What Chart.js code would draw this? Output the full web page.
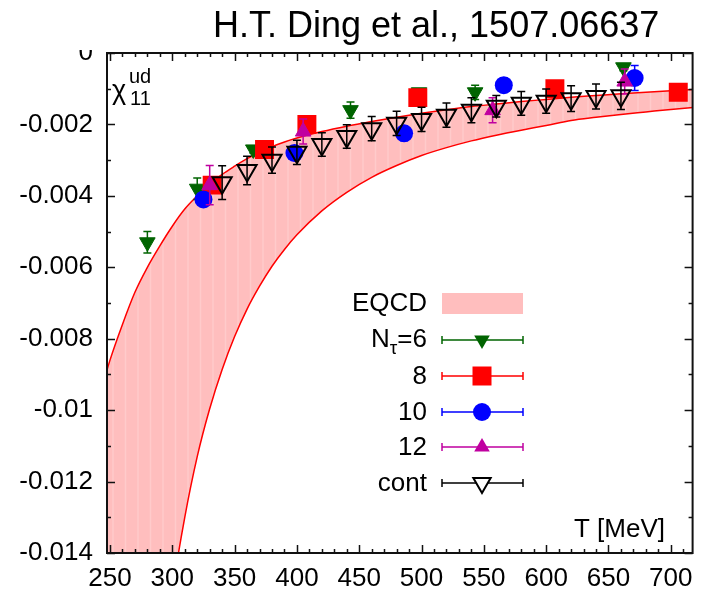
<!DOCTYPE html>
<html>
<head>
<meta charset="utf-8">
<script src="https://cdn.jsdelivr.net/npm/chart.js@4.4.1/dist/chart.umd.min.js"></script>
<style>
  html, body { margin: 0; padding: 0; background: #fff; }
  #wrap { width: 706px; height: 598px; position: relative; }
</style>
</head>
<body>
<div id="wrap"><canvas id="chi11"></canvas></div>
<script>
// EQCD band: upper and lower edge of chi_11^ud vs T
var bandT     = [240, 250, 260, 270, 280, 290, 300, 310, 320, 330, 340, 350, 360, 370, 380, 390, 400, 420, 440, 460, 480, 500, 520, 540, 560, 580, 600, 620, 640, 660, 680, 700, 720];
var eqcdUpper = [-0.0098, -0.0086, -0.0076, -0.0067, -0.0060, -0.0054, -0.00485, -0.00437, -0.0040, -0.00368, -0.0034, -0.00317, -0.00296, -0.00278, -0.00262, -0.00249, -0.00238, -0.0022, -0.00205, -0.00192, -0.0018, -0.00169, -0.00159, -0.0015, -0.00143, -0.00136, -0.0013, -0.00124, -0.00119, -0.00114, -0.0011, -0.00106, -0.00102];
var eqcdLower = [-0.0560, -0.0425, -0.0328, -0.0262, -0.0214, -0.0178, -0.0151, -0.0130, -0.0113, -0.00996, -0.00886, -0.00794, -0.00717, -0.00653, -0.00597, -0.0055, -0.00509, -0.00442, -0.0039, -0.00348, -0.00315, -0.00287, -0.00265, -0.00246, -0.0023, -0.00216, -0.00203, -0.00189, -0.0018, -0.00172, -0.00165, -0.00158, -0.00152];

// lattice results, one set per N_tau
var nt6T   = [280, 320, 365, 443, 498, 543, 662];
var nt6Chi = [-0.0053, -0.0038, -0.0027, -0.0016, -0.0011, -0.0011, -0.0004];
var nt6Err = [0.0003, 0.0003, 0.0001, 0.00023, 0.0001, 0.0002, 0.0001];

var nt8T   = [332, 374, 408, 497, 607, 706];
var nt8Chi = [-0.0037, -0.0027, -0.0020, -0.00125, -0.0010, -0.0011];
var nt8Err = [0.00005, 0.00005, 0.00005, 0.00005, 0.00005, 0.00005];

var nt10T   = [325, 398, 486, 566, 671];
var nt10Chi = [-0.0041, -0.0028, -0.00225, -0.0009, -0.0007];
var nt10Err = [0.0001, 0.0001, 0.0002, 0.0002, 0.00035];

var nt12T   = [330, 405, 557, 663];
var nt12Chi = [-0.0037, -0.0022, -0.0016, -0.0008];
var nt12Err = [0.00055, 0.00035, 0.00035, 0.00035];

// continuum extrapolation
var contT   = [340, 360, 380, 400, 420, 440, 460, 480, 500, 520, 540, 560, 580, 600, 620, 640, 660];
var contChi = [-0.00363, -0.00329, -0.0030, -0.00278, -0.00256, -0.00234, -0.00212, -0.00197, -0.00186, -0.00174, -0.0016, -0.00149, -0.00141, -0.00135, -0.00128, -0.00122, -0.0012];
var contErr = [0.00047, 0.0004, 0.00037, 0.00034, 0.00033, 0.00033, 0.00034, 0.00034, 0.00034, 0.00034, 0.00035, 0.0003, 0.00033, 0.00034, 0.00036, 0.00035, 0.00038];

// axis ticks
var xTicks = [250, 300, 350, 400, 450, 500, 550, 600, 650, 700];
var yTicks = [-0.014, -0.012, -0.01, -0.008, -0.006, -0.004, -0.002, 0];
var yTickLabels = ['-0.014', '-0.012', '-0.01', '-0.008', '-0.006', '-0.004', '-0.002', '0'];

var FONT = "'Liberation Sans', Arial, sans-serif";
var GREEN = '#006400', RED = '#ff0000', BLUE = '#0000ff', MAGENTA = '#c000a0', BLACK = '#000000';
var BAND_FILL = 'rgb(255, 190, 190)';

function pts(xs, ys) {
  return xs.map(function(x, i) { return { x: x, y: ys[i] }; });
}

/* error bars go under the markers of each data set */
var errorBarPlugin = {
  id: 'errorBars',
  beforeDatasetDraw: function(chart, args) {
    var ds = chart.data.datasets[args.index];
    if (!ds.errors) return;
    var ctx = chart.ctx, xs = chart.scales.x, ys = chart.scales.y;
    ctx.save();
    ctx.strokeStyle = ds.borderColor;
    ctx.lineWidth = 1.5;
    ds.data.forEach(function(p, i) {
      var e = ds.errors[i];
      var x = xs.getPixelForValue(p.x);
      var y1 = ys.getPixelForValue(p.y - e);
      var y2 = ys.getPixelForValue(p.y + e);
      ctx.beginPath();
      ctx.moveTo(x, y1); ctx.lineTo(x, y2);
      ctx.moveTo(x - 4, y1); ctx.lineTo(x + 4, y1);
      ctx.moveTo(x - 4, y2); ctx.lineTo(x + 4, y2);
      ctx.stroke();
    });
    ctx.restore();
  }
};

/* faint vertical streaks inside the shaded band */
var bandStreakPlugin = {
  id: 'bandStreaks',
  beforeDatasetDraw: function(chart, args) {
    if (args.index !== 0) return;
    var up = chart.getDatasetMeta(0).data, lo = chart.getDatasetMeta(1).data;
    var ctx = chart.ctx, a = chart.chartArea;
    ctx.save();
    ctx.beginPath();
    ctx.rect(a.left, a.top, a.right - a.left, a.bottom - a.top);
    ctx.clip();
    ctx.beginPath();
    up.forEach(function(p, i) { if (i === 0) ctx.moveTo(p.x, p.y); else ctx.lineTo(p.x, p.y); });
    for (var i = lo.length - 1; i >= 0; i--) ctx.lineTo(lo[i].x, lo[i].y);
    ctx.closePath();
    ctx.clip();
    ctx.strokeStyle = 'rgba(255, 255, 255, 0.2)';
    ctx.lineWidth = 1.5;
    ctx.beginPath();
    for (var x = a.left + 6; x < a.right; x += 12.5) {
      ctx.moveTo(x, a.top); ctx.lineTo(x, a.bottom);
    }
    ctx.stroke();
    ctx.restore();
  }
};

/* gnuplot style frame with inward major and minor ticks on all four sides */
var framePlugin = {
  id: 'frame',
  afterDatasetsDraw: function(chart) {
    var ctx = chart.ctx, a = chart.chartArea;
    var xs = chart.scales.x, ys = chart.scales.y;
    ctx.save();
    ctx.strokeStyle = '#111';
    ctx.lineWidth = 1.5;
    ctx.beginPath();
    for (var t = 250; t <= 710; t += 10) {
      var px = Math.round(xs.getPixelForValue(t)) + 0.5;
      var len = (t % 50 === 0) ? 8 : 4;
      ctx.moveTo(px, a.bottom); ctx.lineTo(px, a.bottom - len);
      ctx.moveTo(px, a.top); ctx.lineTo(px, a.top + len);
    }
    for (var k = 0; k <= 14; k++) {
      var py = Math.round(ys.getPixelForValue(-k * 0.001)) + 0.5;
      var l2 = (k % 2 === 0) ? 8 : 4;
      ctx.moveTo(a.left, py); ctx.lineTo(a.left + l2, py);
      ctx.moveTo(a.right, py); ctx.lineTo(a.right - l2, py);
    }
    ctx.stroke();
    ctx.lineWidth = 2;
    ctx.strokeRect(a.left, a.top, a.right - a.left, a.bottom - a.top);
    ctx.restore();
  }
};

function markerPath(ctx, shape, x, y, r) {
  ctx.beginPath();
  var s = Math.sin(Math.PI / 3) * r;
  if (shape === 'down') {
    ctx.moveTo(x, y + r); ctx.lineTo(x - s, y - r / 2); ctx.lineTo(x + s, y - r / 2);
  } else if (shape === 'up') {
    ctx.moveTo(x, y - r); ctx.lineTo(x - s, y + r / 2); ctx.lineTo(x + s, y + r / 2);
  } else if (shape === 'square') {
    ctx.rect(x - r, y - r, 2 * r, 2 * r);
  } else {
    ctx.arc(x, y, r, 0, Math.PI * 2);
  }
  ctx.closePath();
}

/* title, axis labels and key */
var textPlugin = {
  id: 'texts',
  afterDraw: function(chart) {
    var ctx = chart.ctx;
    ctx.save();
    // the top of the "0" label sits under the cropped top margin
    ctx.fillStyle = '#fff';
    ctx.fillRect(0, 0, 104, 50);

    ctx.fillStyle = '#000';
    ctx.textBaseline = 'alphabetic';
    ctx.textAlign = 'left';
    ctx.font = '36px ' + FONT;
    ctx.fillText('H.T. Ding et al., 1507.06637', 213, 37);

    // chi_11^ud
    ctx.font = '27px ' + FONT;
    ctx.fillText('\u03c7', 112, 99);
    ctx.font = '20px ' + FONT;
    ctx.fillText('11', 130, 105);
    ctx.fillText('ud', 129, 83);

    ctx.textAlign = 'right';
    ctx.textBaseline = 'middle';
    ctx.font = '26px ' + FONT;
    ctx.fillText('T [MeV]', 665, 530);

    // key
    var x0 = 442, x1 = 523, xm = 482, tx = 427;
    ctx.fillStyle = BAND_FILL;
    ctx.fillRect(x0, 293, x1 - x0, 21);
    ctx.fillStyle = '#000';
    ctx.fillText('EQCD', tx, 304);

    var rows = [
      { y: 340, color: GREEN, shape: 'down', r: 9, fill: true, label: null },
      { y: 376, color: RED, shape: 'square', r: 9.5, fill: true, label: '8' },
      { y: 412, color: BLUE, shape: 'circle', r: 9, fill: true, label: '10' },
      { y: 447, color: MAGENTA, shape: 'up', r: 9, fill: true, label: '12' },
      { y: 483, color: BLACK, shape: 'down', r: 10, fill: false, label: 'cont' }
    ];
    rows.forEach(function(row) {
      ctx.strokeStyle = row.color;
      ctx.lineWidth = 1.5;
      ctx.beginPath();
      ctx.moveTo(x0, row.y); ctx.lineTo(x1, row.y);
      ctx.moveTo(x0, row.y - 4); ctx.lineTo(x0, row.y + 4);
      ctx.moveTo(x1, row.y - 4); ctx.lineTo(x1, row.y + 4);
      ctx.stroke();
      markerPath(ctx, row.shape, xm, row.y, row.r);
      if (row.fill) {
        ctx.fillStyle = row.color; ctx.fill();
      } else {
        ctx.fillStyle = '#fff'; ctx.fill();
        ctx.lineWidth = 2; ctx.stroke();
      }
      ctx.fillStyle = '#000';
      ctx.font = '26px ' + FONT;
      ctx.textAlign = 'right';
      if (row.label) {
        ctx.fillText(row.label, tx, row.y + 1);
      } else {
        // N_tau=6
        var w1 = ctx.measureText('=6').width;
        ctx.fillText('=6', tx, row.y);
        ctx.font = '19px ' + FONT;
        var w2 = ctx.measureText('\u03c4').width;
        ctx.fillText('\u03c4', tx - w1, row.y + 9);
        ctx.font = '26px ' + FONT;
        ctx.fillText('N', tx - w1 - w2, row.y);
      }
    });
    ctx.restore();
  }
};

new Chart(document.getElementById('chi11').getContext('2d'), {
  type: 'scatter',
  data: {
    datasets: [
      {
        type: 'line', label: 'EQCD', data: pts(bandT, eqcdUpper),
        borderColor: RED, borderWidth: 1.5, backgroundColor: BAND_FILL,
        pointRadius: 0, cubicInterpolationMode: 'monotone', fill: 1, order: 11
      },
      {
        type: 'line', label: 'EQCD lower', data: pts(bandT, eqcdLower),
        borderColor: RED, borderWidth: 1.5, pointRadius: 0,
        cubicInterpolationMode: 'monotone', fill: false, order: 10
      },
      {
        label: 'N_tau=6', data: pts(nt6T, nt6Chi), errors: nt6Err,
        borderColor: GREEN, backgroundColor: GREEN, pointStyle: 'triangle', rotation: 180,
        pointRadius: 9, borderWidth: 1, order: 5
      },
      {
        label: '8', data: pts(nt8T, nt8Chi), errors: nt8Err,
        borderColor: RED, backgroundColor: RED, pointStyle: 'rect',
        pointRadius: 13.4, borderWidth: 0, order: 4
      },
      {
        label: '10', data: pts(nt10T, nt10Chi), errors: nt10Err,
        borderColor: BLUE, backgroundColor: BLUE, pointStyle: 'circle',
        pointRadius: 9, borderWidth: 0, order: 3
      },
      {
        label: '12', data: pts(nt12T, nt12Chi), errors: nt12Err,
        borderColor: MAGENTA, backgroundColor: MAGENTA, pointStyle: 'triangle',
        pointRadius: 9, borderWidth: 1, order: 2
      },
      {
        label: 'cont', data: pts(contT, contChi), errors: contErr,
        borderColor: BLACK, backgroundColor: 'rgba(0,0,0,0)', pointStyle: 'triangle', rotation: 180,
        pointRadius: 11, borderWidth: 2, order: 1
      }
    ]
  },
  options: {
    responsive: true,
    maintainAspectRatio: false,
    animation: false,
    events: [],
    layout: { padding: { left: 0, top: 53, right: 6, bottom: 0 } },
    scales: {
      x: {
        type: 'linear', min: 247.6, max: 717.5,
        afterBuildTicks: function(s) { s.ticks = xTicks.map(function(v) { return { value: v }; }); },
        afterFit: function(s) { s.height = 45; },
        grid: { display: false, drawTicks: false },
        border: { display: false },
        ticks: {
          padding: 10, maxRotation: 0, autoSkip: false, color: '#000',
          font: { family: FONT, size: 26 },
          callback: function(v) { return String(v); }
        }
      },
      y: {
        type: 'linear', min: -0.014, max: 0,
        afterBuildTicks: function(s) { s.ticks = yTicks.map(function(v) { return { value: v }; }); },
        afterFit: function(s) { s.width = 107; },
        grid: { display: false, drawTicks: false },
        border: { display: false },
        ticks: {
          padding: 14, autoSkip: false, color: '#000',
          font: { family: FONT, size: 26 },
          callback: function(v, i) { return yTickLabels[i]; }
        }
      }
    },
    plugins: {
      legend: { display: false },
      tooltip: { enabled: false }
    }
  },
  plugins: [errorBarPlugin, bandStreakPlugin, framePlugin, textPlugin]
});
</script>
</body>
</html>
